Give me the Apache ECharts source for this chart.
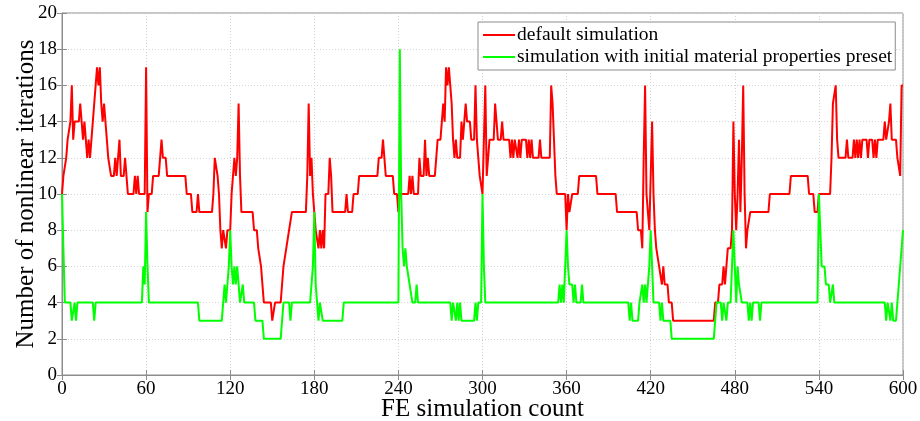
<!DOCTYPE html>
<html><head><meta charset="utf-8">
<script src="https://cdn.jsdelivr.net/npm/echarts@6/dist/echarts.min.js"></script>
<style>html,body{margin:0;padding:0;background:#fff}#c{width:920px;height:421px}</style>
</head><body><div id="c"></div>
<script>
const xTicks = [0,60,120,180,240,300,360,420,480,540,600];
const yTicks = [0,2,4,6,8,10,12,14,16,18,20];
const seriesNames = ["default simulation","simulation with initial material properties preset"];
// default simulation: [count, iterations] at each change point
const redX = [0,1,2,3,4,5,6,7,8,9,12,13,14,15,16,17,18,19,20,21,22,23,24,25,26,27,28,29,30,31,32,33,34,35,37,38,39,40,41,42,44,45,46,47,51,52,53,54,55,59,60,61,62,64,65,69,70,71,72,74,75,88,89,92,93,96,97,98,107,108,109,110,111,112,113,114,115,116,117,118,120,121,122,123,124,125,126,127,128,136,137,139,140,141,142,143,144,149,150,151,152,156,157,158,159,160,161,162,163,164,174,175,176,177,178,179,180,181,182,183,184,185,186,187,188,190,191,192,193,202,203,204,207,208,211,212,225,226,228,229,230,231,236,237,239,240,241,247,248,249,250,251,254,255,256,258,259,260,261,262,266,267,268,270,271,272,273,274,275,276,277,278,279,280,281,282,284,285,286,287,288,289,291,292,294,295,296,297,298,299,300,301,302,303,304,305,308,309,310,311,313,314,315,319,320,321,322,323,324,325,326,327,328,331,332,333,334,335,336,340,341,342,348,349,350,351,352,353,359,360,361,362,363,364,368,369,381,382,395,396,410,411,413,414,415,416,417,418,419,420,421,422,423,424,425,426,427,428,429,430,432,433,435,436,465,466,468,469,471,472,473,474,475,477,478,479,480,481,482,483,484,485,486,487,488,489,490,491,504,505,519,520,532,533,536,537,539,540,548,549,550,551,552,553,554,559,560,561,564,565,566,567,568,569,570,571,574,575,576,578,579,580,581,582,586,587,588,589,590,591,592,595,596,597,598,599,600];
const redY = [10,11,11,12,13,13,14,16,13,14,14,15,14,13,14,13,12,13,12,13,14,15,16,17,16,17,15,14,15,14,13,12,12,11,11,12,11,11,13,11,11,12,12,10,10,11,10,11,10,10,17,9,10,10,11,11,12,13,12,12,11,11,10,10,9,9,10,9,9,10,12,12,11,10,8,7,8,8,7,8,8,10,11,12,11,12,15,11,9,9,8,8,7,7,6,5,4,4,3,3,4,4,5,6,6,7,7,8,8,9,9,11,15,11,12,10,9,8,8,7,8,7,8,7,10,10,12,11,9,9,10,9,9,10,10,11,11,12,12,13,12,11,11,10,10,9,10,10,11,10,11,10,10,12,11,11,13,11,12,11,11,12,13,13,14,15,14,17,16,17,16,15,13,12,13,12,12,14,13,14,15,14,14,13,13,16,13,12,11,11,10,13,16,11,12,13,13,15,14,13,13,14,13,13,12,13,12,13,13,12,13,12,13,13,12,13,12,13,12,12,13,12,12,16,15,13,11,10,10,8,10,9,9,10,10,11,11,10,10,9,9,8,8,7,12,16,10,9,8,8,14,10,8,7,7,6,6,5,6,5,5,4,4,3,3,4,4,5,5,6,5,6,7,7,8,14,10,8,10,13,9,12,16,10,7,8,8,9,9,10,10,11,11,10,10,9,9,10,10,12,15,15,16,13,12,12,13,12,12,13,12,13,12,13,12,13,13,12,13,13,12,13,12,13,13,14,13,13,14,15,13,13,12,12,11,16,16];
// simulation with initial material properties preset
const greenX = [0,1,2,6,7,8,9,10,11,22,23,24,57,58,59,60,61,62,97,98,114,115,116,117,118,119,120,121,122,123,124,125,126,127,128,129,130,137,138,143,144,156,157,158,162,163,164,177,178,179,180,181,182,183,184,185,186,200,201,240,241,242,243,244,245,246,247,248,249,250,252,253,254,277,278,279,280,281,282,283,284,285,294,295,296,297,299,300,301,302,354,355,356,357,358,359,360,361,362,364,365,366,367,370,371,372,404,405,406,407,411,412,413,414,415,416,417,418,419,420,421,422,426,427,428,429,434,435,465,466,467,470,471,472,473,474,475,477,478,479,480,481,482,483,484,485,489,490,491,492,493,497,498,499,539,540,541,542,544,545,547,548,549,550,551,587,588,589,590,591,592,593,595,596,597,598,599,600];
const greenY = [10,7,4,4,3,3,4,3,4,4,3,4,4,6,5,9,6,4,4,3,3,4,5,4,4,6,8,6,5,6,5,6,5,4,4,5,4,4,3,3,2,2,3,4,4,3,4,4,5,6,9,5,4,3,4,4,3,3,4,4,18,10,7,6,7,6,6,5,5,4,4,5,4,4,3,4,4,3,4,3,4,3,3,4,3,4,4,10,6,4,4,5,4,5,4,6,8,6,5,5,4,5,4,4,5,4,4,3,4,3,3,4,4,5,4,5,4,4,6,8,6,4,4,3,4,3,3,2,2,3,4,4,3,4,4,3,4,4,6,8,8,4,6,5,5,4,4,3,4,3,4,4,3,4,4,10,8,6,6,5,5,4,4,5,4,4,3,4,4,3,4,3,3,4,5,6,7,8];

const redData = redX.map((x,i)=>[x,redY[i]]);
const greenData = greenX.map((x,i)=>[x,greenY[i]]);
const FONT = '"Liberation Serif","Times New Roman",serif';
const chart = echarts.init(document.getElementById('c'), null, {renderer:'canvas'});
const gridLine = {show:true, lineStyle:{color:'#d4d4d4', type:[1,2], width:1}};
chart.setOption({
  animation:false,
  backgroundColor:'#fff',
  grid:{left:62, right:17, top:13, bottom:46, containLabel:false, outerBoundsMode:'none',
        show:true, borderColor:'#8c8c8c', borderWidth:1, backgroundColor:'transparent'},
  legend:{
    left:478, top:22, orient:'vertical', backgroundColor:'#fff', borderColor:'#8c8c8c', borderWidth:1,
    padding:[3,3,3,5], itemGap:2, itemWidth:32, itemHeight:2, icon:'rect',
    textStyle:{fontFamily:FONT, fontSize:19.5, color:'#000', padding:[0,0,0,-3]},
    data:seriesNames
  },
  xAxis:[{
    type:'value', min:xTicks[0], max:xTicks[xTicks.length-1], interval:60,
    name:'FE simulation count', nameLocation:'middle', nameGap:22, nameMoveOverlap:false,
    nameTextStyle:{fontFamily:FONT, fontSize:25, color:'#000'},
    axisLine:{show:true, lineStyle:{color:'#8c8c8c'}},
    axisTick:{show:true, inside:true, length:5, lineStyle:{color:'#8c8c8c'}},
    axisLabel:{fontFamily:FONT, fontSize:19, color:'#000', margin:5},
    splitLine:gridLine
  },{
    type:'value', position:'top', min:0, max:600, interval:60,
    axisLine:{show:false}, axisTick:{show:true, inside:true, length:5, lineStyle:{color:'#8c8c8c'}},
    axisLabel:{show:false}, splitLine:{show:false}
  }],
  yAxis:[{
    type:'value', min:yTicks[0], max:yTicks[yTicks.length-1], interval:2,
    name:'Number of nonlinear iterations', nameLocation:'middle', nameGap:23, nameMoveOverlap:false,
    nameTextStyle:{fontFamily:FONT, fontSize:25, color:'#000'},
    axisLine:{show:true, lineStyle:{color:'#8c8c8c'}},
    axisTick:{show:true, inside:true, length:5, lineStyle:{color:'#8c8c8c'}},
    axisLabel:{fontFamily:FONT, fontSize:19, color:'#000', margin:5},
    splitLine:gridLine
  },{
    type:'value', position:'right', min:0, max:20, interval:2,
    axisLine:{show:false}, axisTick:{show:true, inside:true, length:5, lineStyle:{color:'#8c8c8c'}},
    axisLabel:{show:false}, splitLine:{show:false}
  }],
  series:[
    {name:seriesNames[0], type:'line', data:redData, showSymbol:false, symbol:'none',
     lineStyle:{color:'#ff0000', width:2}, itemStyle:{color:'#ff0000'}, z:2},
    {name:seriesNames[1], type:'line', data:greenData, showSymbol:false, symbol:'none',
     lineStyle:{color:'#00ff00', width:2}, itemStyle:{color:'#00ff00'}, z:3}
  ]
});
</script></body></html>
